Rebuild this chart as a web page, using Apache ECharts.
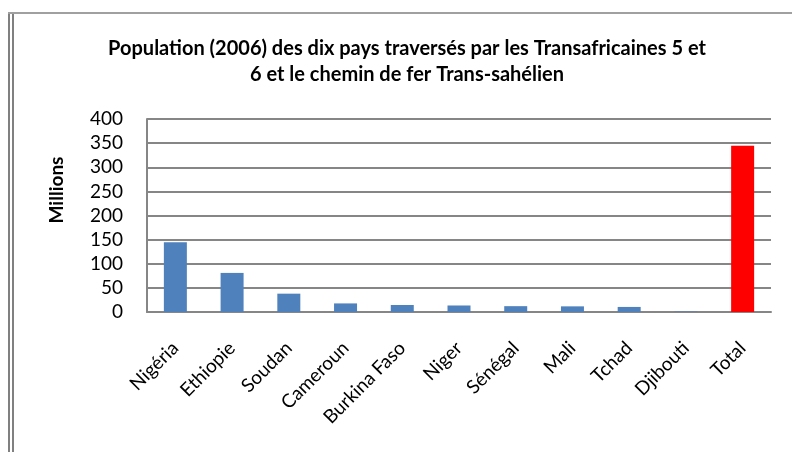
<!DOCTYPE html>
<html>
<head>
<meta charset="utf-8">
<script src="https://cdn.jsdelivr.net/npm/echarts@6/dist/echarts.min.js"></script>
<style>
  html, body { margin: 0; padding: 0; background: #fff; }
  #chart { width: 792px; height: 452px; }
</style>
</head>
<body>
<div id="chart"></div>
<script>
// population 2006, en millions
var pays = ['Nigéria', 'Ethiopie', 'Soudan', 'Cameroun', 'Burkina Faso', 'Niger', 'Sénégal', 'Mali', 'Tchad', 'Djibouti', 'Total'];
var population = [144.7, 81.0, 38.0, 17.8, 14.5, 13.5, 12.1, 11.7, 10.5, 0.8, 344.6];
var yTicks = [0, 50, 100, 150, 200, 250, 300, 350, 400];

var fontFam = 'Lato, "Open Sans", sans-serif';

var chart = echarts.init(document.getElementById('chart'));
var option = {
  backgroundColor: '#fff',
  animation: false,
  title: {
    text: 'Population (2006) des dix pays traversés par les Transafricaines 5 et\n6 et le chemin de fer Trans-sahélien',
    left: 402,
    top: 31,
    textAlign: 'center',
    textStyle: {
      fontFamily: fontFam,
      fontWeight: 'bold',
      fontSize: 20,
      lineHeight: 26,
      color: '#000'
    }
  },
  grid: { left: 147, right: 21, top: 119, bottom: 140 },
  xAxis: {
    type: 'category',
    data: pays,
    axisLine: { lineStyle: { color: '#868686', width: 2 } },
    axisTick: { show: false },
    axisLabel: {
      rotate: 45,
      margin: 33,
      interval: 0,
      fontFamily: fontFam,
      fontSize: 19,
      color: '#000'
    }
  },
  yAxis: {
    type: 'value',
    min: yTicks[0],
    max: yTicks[yTicks.length - 1],
    interval: 50,
    axisLine: { show: true, lineStyle: { color: '#868686', width: 2 } },
    axisTick: { show: false },
    splitLine: { lineStyle: { color: '#868686', width: 2 } },
    axisLabel: {
      margin: 24,
      fontFamily: fontFam,
      fontSize: 19,
      color: '#000'
    }
  },
  series: [{
    type: 'bar',
    data: population.map(function (v, i) {
      return {
        value: v,
        itemStyle: { color: pays[i] === 'Total' ? '#FF0000' : '#4F81BD' }
      };
    }),
    barWidth: 23
  }],
  graphic: [
    { type: 'rect', shape: { x: 8, y: 12, width: 2, height: 440 }, style: { fill: '#808080' } },
    { type: 'rect', shape: { x: 12, y: 12, width: 2, height: 440 }, style: { fill: '#808080' } },
    { type: 'rect', shape: { x: 8, y: 12, width: 784, height: 2 }, style: { fill: '#a0a0a0' } },
    {
      type: 'text',
      x: 57,
      y: 190,
      rotation: Math.PI / 2,
      style: {
        text: 'Millions',
        fontFamily: fontFam,
        fontWeight: 'bold',
        fontSize: 19,
        fill: '#000',
        align: 'center',
        verticalAlign: 'middle'
      }
    }
  ]
};
chart.setOption(option);
window.addEventListener('resize', function () {
  chart.resize();
});
</script>
</body>
</html>
